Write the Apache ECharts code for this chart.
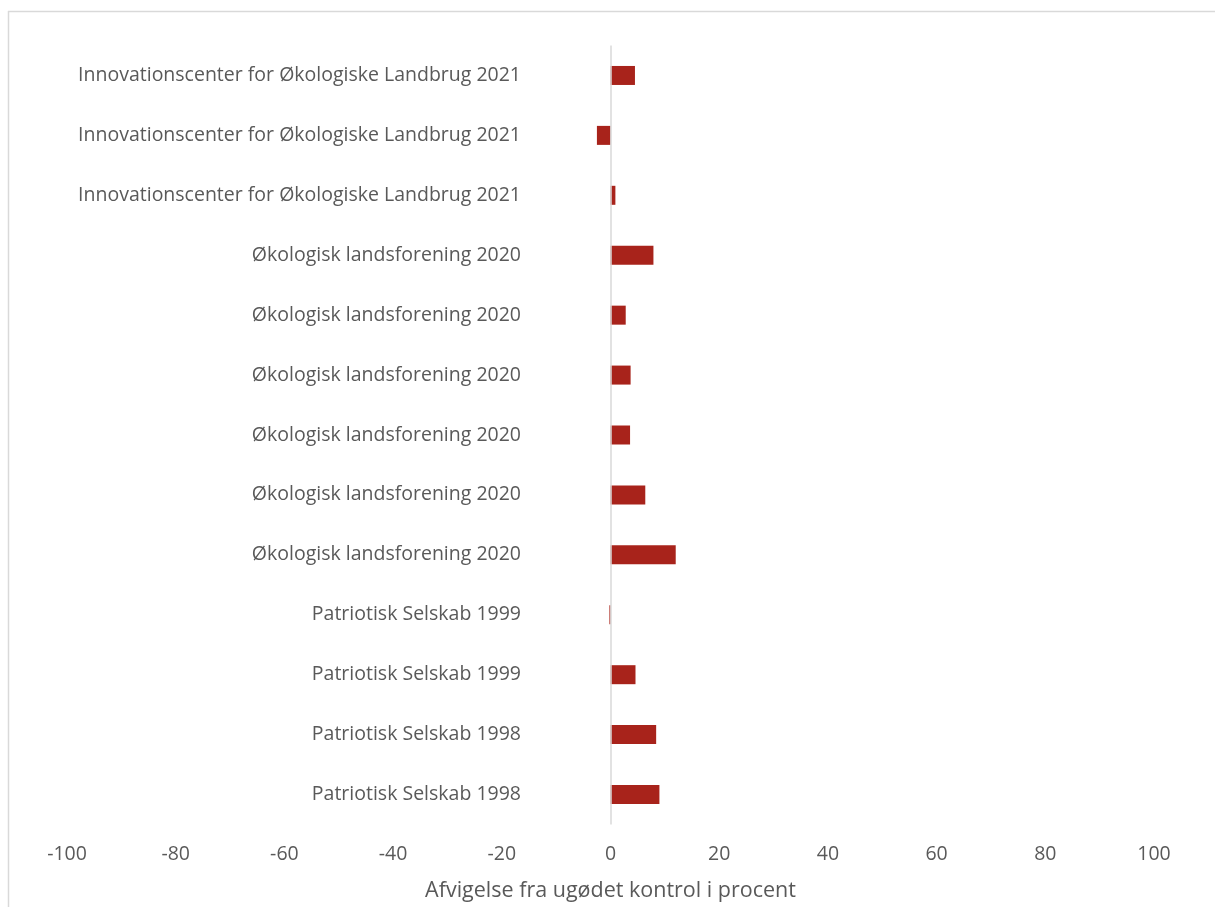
<!DOCTYPE html>
<html>
<head>
<meta charset="utf-8">
<script src="https://cdn.jsdelivr.net/npm/echarts@6/dist/echarts.min.js"></script>
<style>
html,body{margin:0;padding:0;background:#fff;}
#chart{width:1215px;height:907px;}
</style>
</head>
<body>
<div id="chart"></div>
<script>
// Categories listed top to bottom as in the picture
const categories = [
  "Innovationscenter for Økologiske Landbrug 2021",
  "Innovationscenter for Økologiske Landbrug 2021",
  "Innovationscenter for Økologiske Landbrug 2021",
  "Økologisk landsforening 2020",
  "Økologisk landsforening 2020",
  "Økologisk landsforening 2020",
  "Økologisk landsforening 2020",
  "Økologisk landsforening 2020",
  "Økologisk landsforening 2020",
  "Patriotisk Selskab 1999",
  "Patriotisk Selskab 1999",
  "Patriotisk Selskab 1998",
  "Patriotisk Selskab 1998"
];
const values = [4.5, -2.5, 0.9, 7.9, 2.8, 3.7, 3.6, 6.4, 12.0, -0.2, 4.6, 8.4, 9.0];
const xTicks = [-100, -80, -60, -40, -20, 0, 20, 40, 60, 80, 100];
const xTitle = "Afvigelse fra ugødet kontrol i procent";

const chart = echarts.init(document.getElementById('chart'), null, {renderer: 'canvas'});
const font = "Open Sans";
chart.setOption({
  animation: false,
  backgroundColor: '#fff',
  grid: {left: 67, right: 61, top: 45.5, bottom: 82.5, containLabel: false, outerBoundsMode: 'none'},
  xAxis: {
    type: 'value',
    min: xTicks[0],
    max: xTicks[xTicks.length - 1],
    interval: 20,
    splitLine: {show: false},
    axisLine: {show: false},
    axisTick: {show: false},
    axisLabel: {color: '#595959', fontFamily: font, fontSize: 19.5, margin: 19.5},
    name: xTitle,
    nameLocation: 'middle',
    nameGap: 55,
    nameTextStyle: {color: '#595959', fontFamily: font, fontSize: 21.5}
  },
  yAxis: {
    type: 'category',
    data: categories,
    inverse: true,
    axisLine: {show: false, onZero: false},
    axisTick: {show: false},
    axisLabel: {color: '#595959', fontFamily: font, fontSize: 19.5, margin: -454, align: 'right', interval: 0, hideOverlap: false}
  },
  series: [{
    type: 'bar',
    data: values,
    barWidth: 19,
    itemStyle: {color: '#A8231B'},
    markLine: {
      silent: true,
      symbol: 'none',
      label: {show: false},
      lineStyle: {color: '#d9d9d9', width: 1.5, type: 'solid'},
      data: [{xAxis: 0}]
    }
  }],
  graphic: [
    {type: 'line', shape: {x1: 8.5, y1: 11, x2: 8.5, y2: 907}, style: {stroke: '#d9d9d9', lineWidth: 1.5}},
    {type: 'line', shape: {x1: 8, y1: 11.5, x2: 1215, y2: 11.5}, style: {stroke: '#d9d9d9', lineWidth: 1.5}}
  ]
});
</script>
</body>
</html>
